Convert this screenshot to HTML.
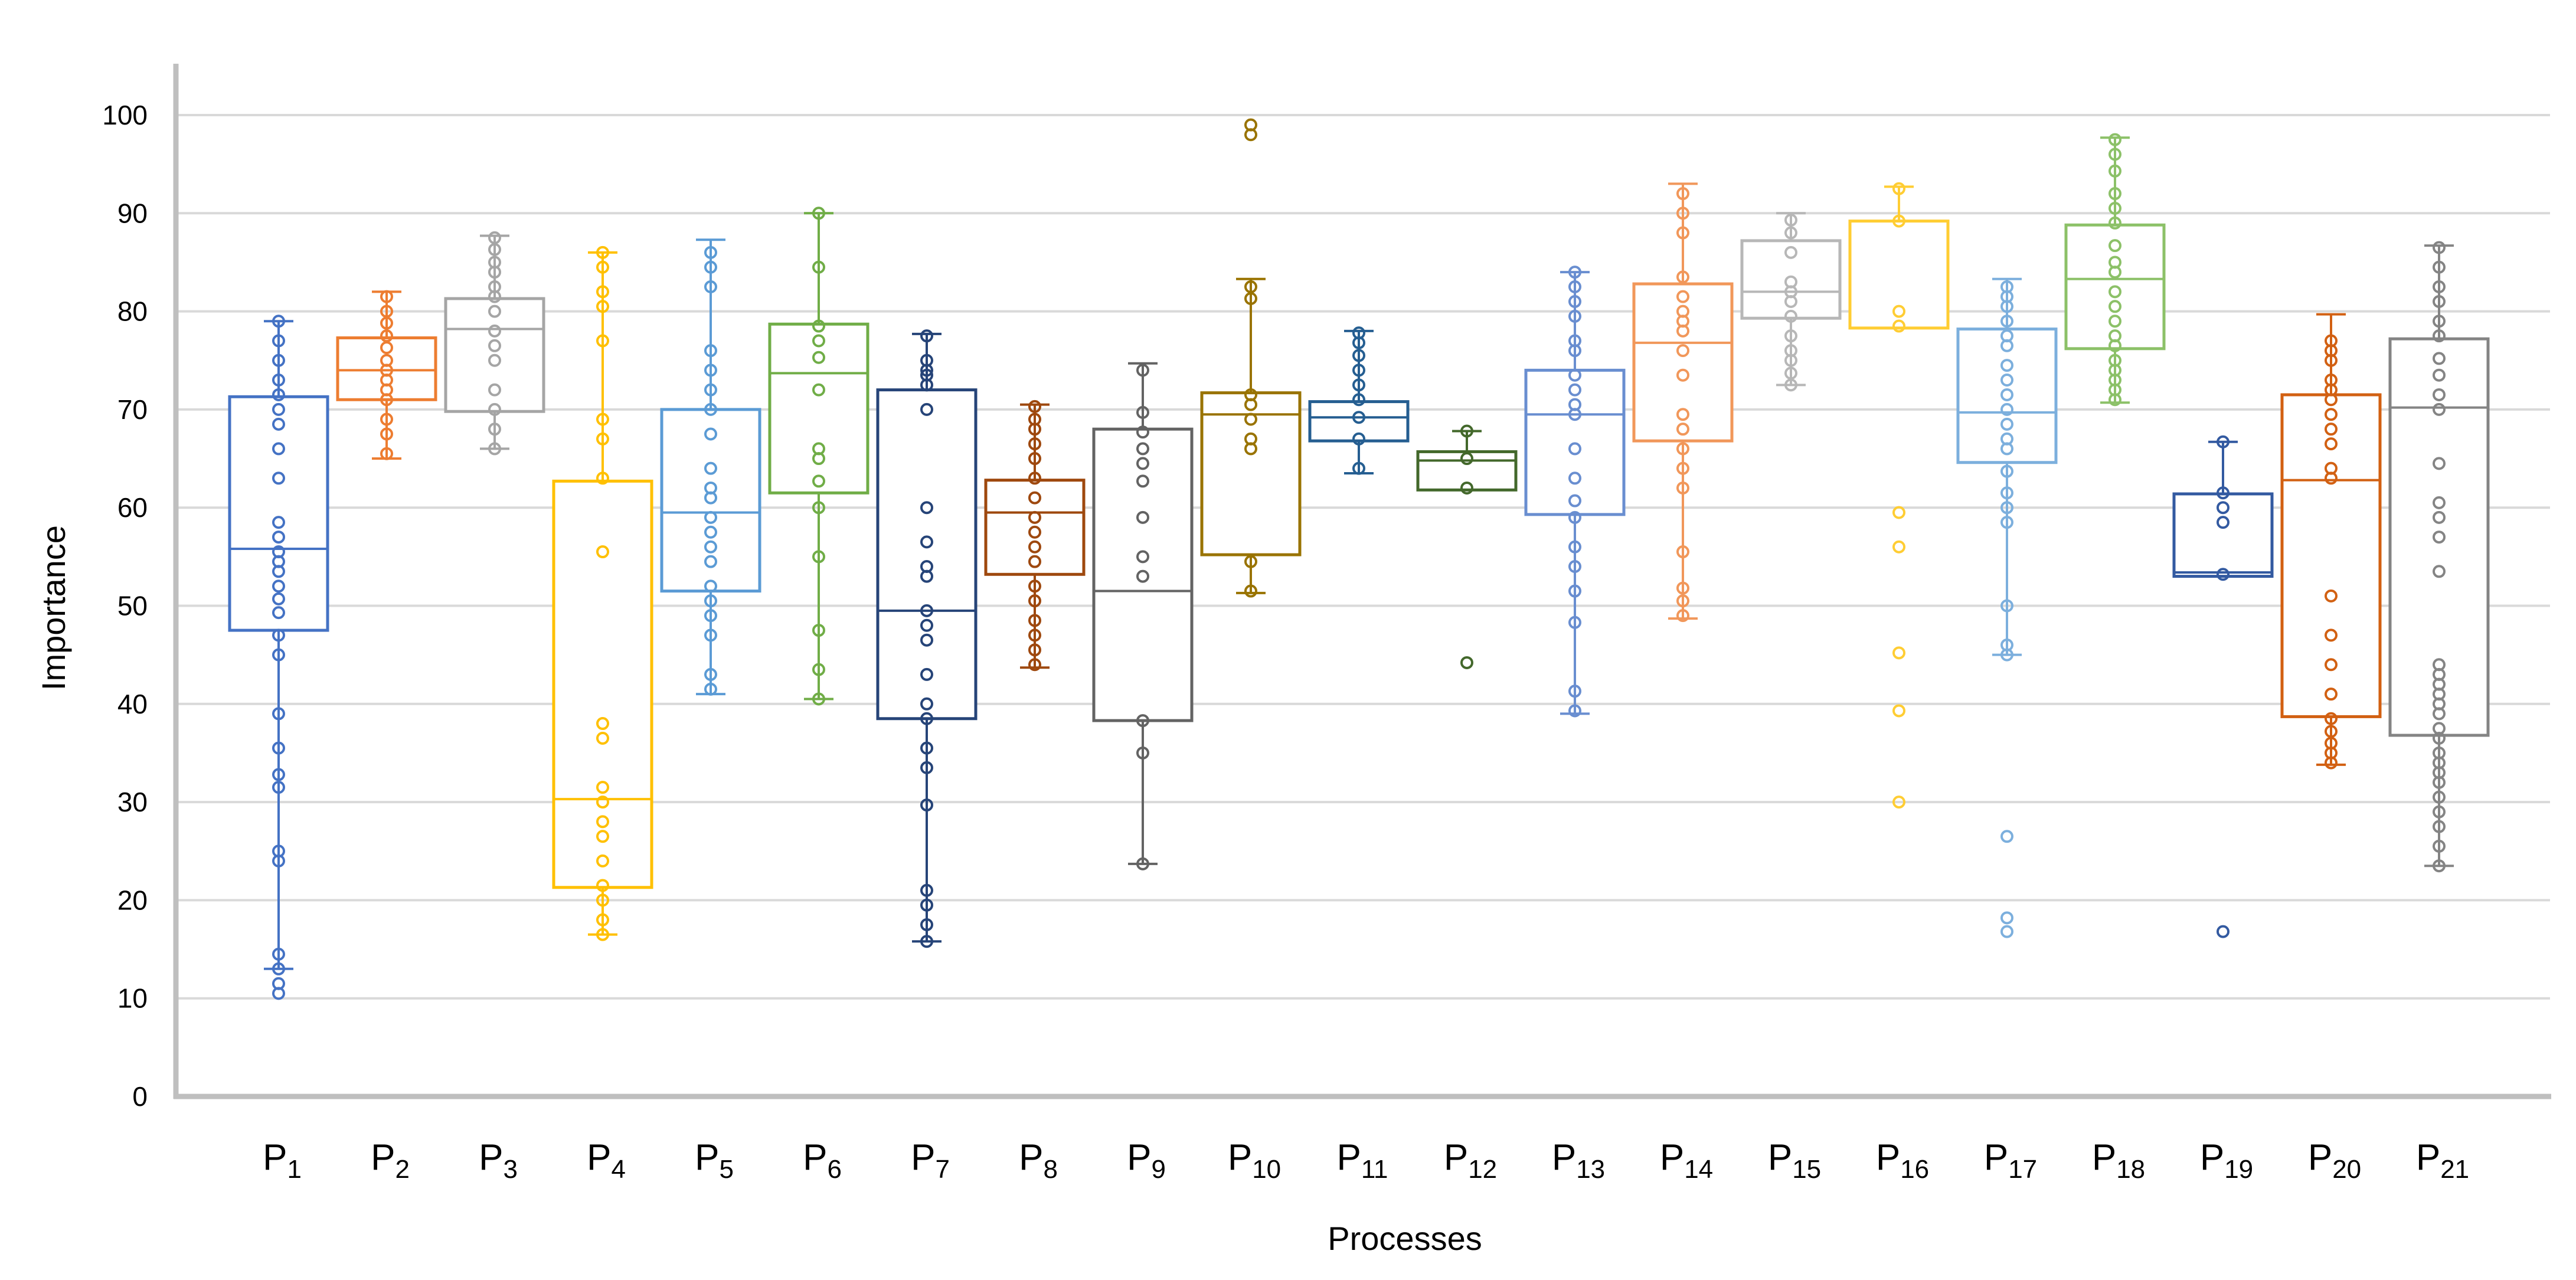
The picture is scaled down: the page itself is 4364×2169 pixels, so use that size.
<!DOCTYPE html>
<html><head><meta charset="utf-8"><style>
html,body{margin:0;padding:0;background:#fff;}
svg{display:block;font-family:"Liberation Sans",Arial,sans-serif;}
</style></head><body>
<svg id="chart" width="4364" height="2169" viewBox="0 0 4364 2169" xmlns="http://www.w3.org/2000/svg">
<g id="grid"></g>
<g id="yticks"></g>
<g id="boxes"></g>
<line x1="298" y1="108" x2="298" y2="1862" stroke="#BFBFBF" stroke-width="9"/>
<line x1="294" y1="1858" x2="4322" y2="1858" stroke="#BFBFBF" stroke-width="9"/>
<g id="xlabels"></g>
<text transform="translate(110,1030) rotate(-90)" text-anchor="middle" font-size="56" fill="#000">Importance</text>
<text x="2380" y="2118" text-anchor="middle" font-size="56" fill="#000">Processes</text>
</svg>
<script>
const categories = ["1","2","3","4","5","6","7","8","9","10","11","12","13","14","15","16","17","18","19","20","21"];
const colors = ["#4472C4","#ED7D31","#A5A5A5","#FFC000","#5B9BD5","#70AD47","#264478","#9E480E","#636363","#997300","#255E91","#43682B","#698ED0","#F1975A","#B7B7B7","#FFCD33","#7CAFDD","#8CC168","#335AA1","#D26012","#848484"];
const whiskerLow = [13,65,66,16.5,41,40.5,15.8,43.7,23.7,51.3,63.5,61.8,39,48.7,72.5,78.3,45,70.7,53,33.8,23.5];
const whiskerHigh = [79,82,87.7,86,87.3,90,77.7,70.5,74.7,83.3,78,67.8,84,93,90,92.7,83.3,97.7,66.7,79.7,86.7];
const q1 = [47.5,71,69.8,21.3,51.5,61.5,38.5,53.2,38.3,55.2,66.8,61.8,59.3,66.8,79.3,78.3,64.6,76.2,53,38.7,36.8];
const medians = [55.8,74,78.2,30.3,59.5,73.7,49.5,59.5,51.5,69.5,69.2,64.8,69.5,76.8,82,89.2,69.7,83.3,53.4,62.8,70.2];
const q3 = [71.3,77.3,81.3,62.7,70,78.7,72,62.8,68,71.7,70.8,65.7,74,82.8,87.2,89.2,78.2,88.8,61.4,71.5,77.2];
const points = [
 [79,77,75,73,71.5,70,68.5,66,63,58.5,57,55.5,54.5,53.5,52,50.7,49.3,47,45,39,35.5,32.8,31.5,25,24,14.5,13,11.5,10.5],
 [81.5,80,78.8,77.5,76.3,75,74,73,72,71,69,67.5,65.5],
 [87.5,86.3,85,84,82.5,81.5,80,78,76.5,75,72,70,68,66],
 [86,84.5,82,80.5,77,69,67,63,55.5,38,36.5,31.5,30,28,26.5,24,21.5,20,18,16.5],
 [86,84.5,82.5,76,74,72,70,67.5,64,62,61,59,57.5,56,54.5,52,50.5,49,47,43,41.5],
 [90,84.5,78.5,77,75.3,72,66,65,62.7,60,55,47.5,43.5,40.5],
 [77.5,75,74,73.5,72.5,70,60,56.5,54,53,49.5,48,46.5,43,40,38.5,35.5,33.5,29.7,21,19.5,17.5,15.8],
 [70.3,69,68,66.5,65,63,61,59,57.5,56,54.5,52,50.5,48.5,47,45.5,44],
 [74,69.7,67.7,66,64.5,62.7,59,55,53,38.3,35,23.7],
 [99,98,82.5,81.3,71.5,70.5,69,67,66,54.5,51.5],
 [77.8,76.8,75.5,74,72.5,71,69.2,67,64],
 [67.8,65,62,44.2],
 [84,82.5,81,79.5,77,76,73.5,72,70.5,69.5,66,63,60.7,59,56,54,51.5,48.3,41.3,39.3],
 [92,90,88,83.5,81.5,80,79,78,76,73.5,69.5,68,66,64,62,55.5,51.8,50.5,49],
 [89.3,88,86,83,82,81,79.5,77.5,76,75,73.7,72.5],
 [92.5,89.2,80,78.5,59.5,56,45.2,39.3,30],
 [82.5,81.5,80.5,79,77.5,76.5,74.5,73,71.5,70,68.5,67,66,63.7,61.5,60,58.5,50,46,45,26.5,18.2,16.8],
 [97.5,96,94.3,92,90.5,89,86.7,85,84,82,80.5,79,77.5,76.5,75,74,73,72,71],
 [66.7,61.5,60,58.5,53.2,16.8],
 [77,76,75,73,72,71,69.5,68,66.5,64,63,51,47,44,41,38.5,37.2,36,35,34],
 [86.5,84.5,82.5,81,79,77.5,75.2,73.5,71.5,70,64.5,60.5,59,57,53.5,44,43,42,41,40,39,37.5,36.5,35,34,33,32,30.5,29,27.5,25.5,23.5]
];
const yTicks = [0,10,20,30,40,50,60,70,80,90,100];

const NS = "http://www.w3.org/2000/svg";
const Y0 = 1858, Y100 = 195, BOXW = 166;
function yScale(v){ return Y0 - (Y0 - Y100) * v / 100; }
function xScale(i){ return 472 + 183 * i; }
function mk(tag, attrs, parent){
  const el = document.createElementNS(NS, tag);
  for (const k in attrs) el.setAttribute(k, attrs[k]);
  parent.appendChild(el);
  return el;
}
const grid = document.getElementById('grid');
const yt = document.getElementById('yticks');
yTicks.forEach(t => {
  if (t > 0) {
    const g = mk('line', {x1:300, x2:4320, y1:yScale(t), y2:yScale(t), stroke:'#D9D9D9', 'stroke-width':4}, grid);
    
    
  }
  const lb = mk('text', {x:250, y:yScale(t)+16, 'text-anchor':'end', 'font-size':46, fill:'#000'}, yt);
  lb.textContent = t;
  
  
});
const boxes = document.getElementById('boxes');
const xl = document.getElementById('xlabels');
categories.forEach((c, i) => {
  const cx = xScale(i), col = colors[i], w = BOXW;
  const g = mk('g', {}, boxes);
  
  
  const wl = mk('line', {x1:cx, x2:cx, y1:yScale(whiskerLow[i]), y2:yScale(whiskerHigh[i]), stroke:col, 'stroke-width':4}, g);
  
  
  [whiskerLow[i], whiskerHigh[i]].forEach(v => {
    const cap = mk('line', {x1:cx-25, x2:cx+25, y1:yScale(v), y2:yScale(v), stroke:col, 'stroke-width':4}, g);
    
    
  });
  const r = mk('rect', {x:cx-w/2, y:yScale(q3[i]), width:w, height:yScale(q1[i])-yScale(q3[i]), fill:'#fff', stroke:col, 'stroke-width':5}, g);
  
  
  const m = mk('line', {x1:cx-w/2, x2:cx+w/2, y1:yScale(medians[i]), y2:yScale(medians[i]), stroke:col, 'stroke-width':4}, g);
  
  
  points[i].forEach(v => {
    const p = mk('circle', {cx:cx, cy:yScale(v), r:9, fill:'none', stroke:col, 'stroke-width':4}, g);
    
    
  });
  const t = mk('text', {x:cx + 6, y:1982, 'text-anchor':'middle', 'font-size':62, fill:'#000'}, xl);
  
  
  t.appendChild(document.createTextNode('P'));
  const s = mk('tspan', {'font-size':44, dy:14}, t);
  s.textContent = c;
});
</script>
</body></html>
